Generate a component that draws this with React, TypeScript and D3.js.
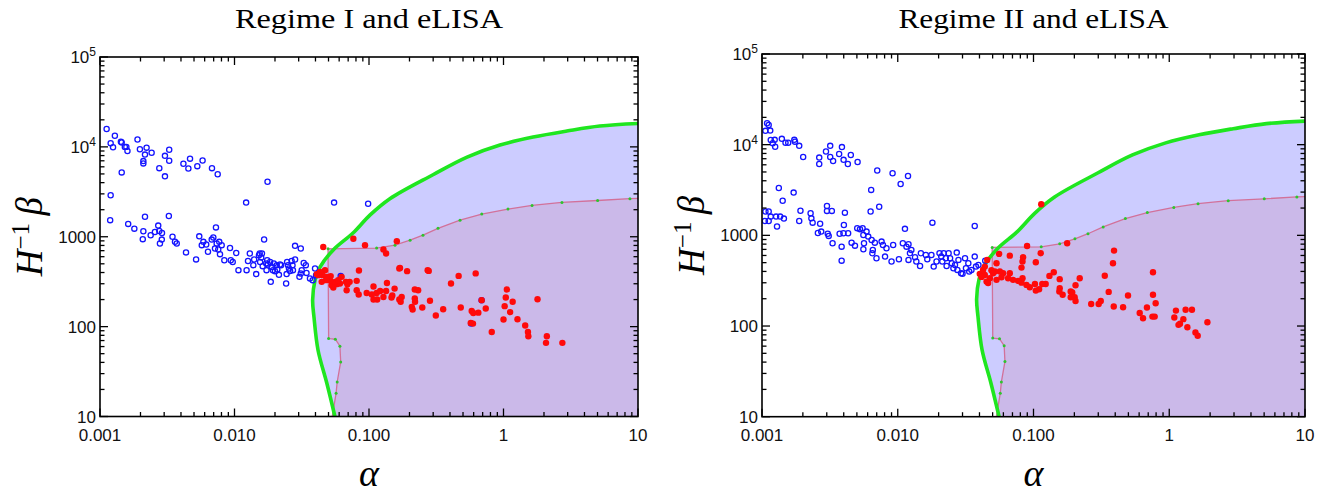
import React from 'react';
import * as d3 from 'd3';

type Pt = [number, number];

// axis ticks
const xMajor = [0.001, 0.01, 0.1, 1, 10];
const xLabels = ['0.001', '0.010', '0.100', '1', '10'];
const yMajor = [10, 100, 1000, 1e4, 1e5];
const yLabels = ['10', '100', '1000', '10^4', '10^5'];

// eLISA sensitivity boundary (green)
const eLisaCurve: Pt[] = [
  [0.0558, 10], [0.0486, 23.4], [0.0418, 54.6], [0.039, 127], [0.0381, 197],
  [0.0397, 329], [0.0432, 459], [0.054, 709], [0.076, 1100], [0.102, 1750],
  [0.143, 2650], [0.299, 4900], [0.536, 7700], [0.942, 10470], [1.66, 12850],
  [2.96, 15000], [5.2, 17050], [10, 18200],
];

// inner region boundary (pink, with green markers)
const regionCurve: Pt[] = [
  [0.0533, 10], [0.0569, 18.1], [0.058, 24.2], [0.0616, 40.5], [0.0608, 60.5],
  [0.0562, 72.4], [0.0501, 73.7], [0.0496, 735], [0.114, 748], [0.156, 806],
  [0.202, 916], [0.252, 1042], [0.326, 1240], [0.475, 1531], [0.689, 1786],
  [1.08, 2030], [1.63, 2233], [2.72, 2411], [5.01, 2530], [8.71, 2650], [10, 2670],
];

const leftBlue: Pt[] = [
  [0.00112, 15800], [0.00129, 13300], [0.0012, 11000], [0.00125, 9900], [0.00143, 11400],
  [0.00145, 11200], [0.00153, 10000], [0.00157, 10000], [0.0016, 9000], [0.0019, 12100],
  [0.00198, 9400], [0.00222, 9800], [0.00216, 8200], [0.00242, 8600], [0.0021, 6950],
  [0.0021, 6550], [0.00145, 5200], [0.00304, 7950], [0.00327, 9300], [0.00327, 7000],
  [0.00276, 5800], [0.00304, 4700], [0.00417, 6500], [0.00467, 7400], [0.00454, 5750],
  [0.00529, 6100], [0.00579, 7050], [0.0068, 5800], [0.0075, 4950], [0.0176, 4100],
  [0.0122, 2400], [0.055, 2400], [0.0985, 2330], [0.0012, 2900],
  [0.00119, 1530], [0.00216, 1670], [0.00325, 1700], [0.00162, 1390], [0.0018, 1230],
  [0.0021, 1150], [0.00208, 940], [0.00238, 1040], [0.00256, 1130], [0.00271, 1330],
  [0.00276, 1160], [0.00289, 1100], [0.00288, 930], [0.00279, 840], [0.00346, 1000],
  [0.00361, 880], [0.00372, 840],
  [0.00436, 670], [0.00518, 560], [0.00547, 1010], [0.00571, 806], [0.00587, 877],
  [0.00616, 820], [0.00635, 680], [0.00677, 930], [0.00696, 980], [0.00716, 740],
  [0.00728, 1270], [0.00737, 840], [0.00757, 720], [0.0077, 877], [0.0078, 640],
  [0.00803, 806], [0.0084, 548], [0.00926, 750], [0.00938, 548], [0.0097, 524],
  [0.0103, 660], [0.0107, 425], [0.0123, 425], [0.0126, 538], [0.013, 652],
  [0.0138, 483], [0.014, 558], [0.0145, 384], [0.0152, 624], [0.0154, 652],
  [0.0155, 524], [0.0158, 588], [0.016, 652], [0.0162, 471], [0.0166, 932],
  [0.0172, 505], [0.0173, 425], [0.0175, 548], [0.0177, 492], [0.0184, 524],
  [0.0186, 315], [0.0189, 462], [0.0193, 425], [0.0196, 505], [0.02, 414],
  [0.0206, 483], [0.0208, 433], [0.0214, 377], [0.0218, 492], [0.0222, 483],
  [0.0242, 302], [0.0244, 384], [0.0246, 524], [0.025, 483], [0.0254, 444],
  [0.0259, 417], [0.0266, 538], [0.027, 483], [0.0272, 425], [0.0282, 558],
  [0.0282, 792], [0.0304, 358], [0.0311, 741], [0.0311, 391], [0.0316, 425],
  [0.0327, 511], [0.0339, 483], [0.0343, 396], [0.0364, 344], [0.0381, 329],
  [0.0397, 444], [0.0404, 374], [0.0616, 365], [0.687, 197], [0.574, 108],
];

const leftRed: Pt[] = [
  [0.0457, 770], [0.0765, 950], [0.0934, 806], [0.128, 722], [0.134, 652],
  [0.161, 893], [0.0842, 422], [0.17, 450], [0.192, 414], [0.273, 425],
  [0.278, 417], [0.464, 367], [0.621, 391], [0.407, 302], [1.06, 259],
  [1.04, 211], [1.17, 189], [1.79, 202], [0.688, 197], [0.738, 159],
  [1.02, 169], [1.12, 145], [1.0, 120], [1.27, 121], [1.45, 103],
  [1.52, 87], [1.53, 78], [2.1, 78], [2.07, 66], [2.74, 66],
  [0.818, 87], [0.58, 149], [0.596, 142], [0.65, 143], [0.571, 110],
  [0.593, 108], [0.481, 163], [0.356, 156], [0.314, 133], [0.284, 194],
  [0.249, 163], [0.219, 259], [0.232, 254], [0.219, 206], [0.22, 189],
  [0.208, 166], [0.211, 155], [0.175, 214], [0.168, 200], [0.172, 189],
  [0.155, 265], [0.149, 222], [0.136, 306], [0.134, 249], [0.128, 214],
  [0.115, 200], [0.114, 237], [0.108, 280], [0.108, 200], [0.105, 228],
  [0.0961, 237], [0.0838, 228], [0.081, 254], [0.081, 323], [0.0718, 315],
  [0.0682, 254], [0.0691, 297], [0.0626, 358], [0.0608, 302], [0.0575, 297],
  [0.0543, 272], [0.0528, 289], [0.0559, 315], [0.059, 329], [0.0513, 329],
  [0.0519, 365], [0.0479, 329], [0.0471, 425], [0.0452, 374], [0.0432, 407],
  [0.042, 374], [0.0445, 315], [0.0409, 384], [0.0485, 358], [0.168, 444],
  [0.121, 249], [0.147, 211], [0.0674, 315],
];

const rightBlue: Pt[] = [
  [0.00109, 17200], [0.00112, 16500], [0.00106, 14200], [0.00115, 14300], [0.00116, 11270],
  [0.00124, 11300], [0.0012, 10400], [0.00125, 9500], [0.0014, 11600], [0.00149, 10500],
  [0.00156, 10500], [0.00173, 11300], [0.00175, 10800], [0.00188, 9700], [0.00201, 7300],
  [0.00264, 7200], [0.00264, 6130], [0.00296, 8400], [0.00318, 9700], [0.00318, 7300],
  [0.00334, 6600], [0.0037, 7900], [0.00388, 9400], [0.00399, 6800], [0.00429, 6130],
  [0.00451, 7700], [0.00506, 6450], [0.00706, 5200], [0.00916, 4840], [0.0119, 4520],
  [0.0105, 3690], [0.00637, 3170], [0.00133, 3330], [0.00171, 2960],
  [0.00142, 2410], [0.00106, 1830], [0.00112, 1830], [0.00116, 1610], [0.00127, 1610],
  [0.00136, 1610], [0.00145, 1530], [0.00105, 1440], [0.00112, 1440], [0.00129, 1250],
  [0.00192, 1870], [0.00188, 1440], [0.00228, 1750], [0.00231, 1540], [0.00236, 1380],
  [0.00301, 2110], [0.00301, 1860], [0.00327, 1860], [0.00268, 1340], [0.00258, 1060],
  [0.00273, 1100], [0.00305, 1040], [0.0031, 986], [0.00331, 818], [0.00373, 1040],
  [0.00408, 1780], [0.00631, 1830], [0.0073, 2070], [0.018, 1380], [0.0369, 1270],
  [0.0113, 1180], [0.00401, 1300], [0.00398, 1055], [0.00386, 751], [0.00386, 526],
  [0.00431, 1055], [0.00457, 831], [0.00484, 770], [0.00503, 1200], [0.00527, 1170],
  [0.00551, 1200], [0.00558, 1010], [0.00564, 818], [0.00558, 703], [0.00589, 1100],
  [0.00606, 969], [0.00642, 890], [0.00655, 691], [0.0065, 635], [0.00678, 831],
  [0.00697, 560], [0.0076, 853], [0.00778, 784], [0.00826, 721], [0.00806, 583],
  [0.009, 514], [0.00925, 784], [0.0102, 546], [0.0109, 818], [0.0116, 751],
  [0.012, 798], [0.0123, 635], [0.012, 536], [0.0126, 691], [0.0134, 574],
  [0.0137, 514], [0.0146, 460], [0.0148, 635], [0.0161, 608], [0.0165, 546],
  [0.0177, 608], [0.0184, 452], [0.0193, 514], [0.0203, 635], [0.0209, 583],
  [0.0213, 514], [0.0218, 635], [0.0226, 560], [0.0229, 460], [0.0237, 635],
  [0.0243, 560], [0.025, 493], [0.0257, 434], [0.0264, 472], [0.0272, 645],
  [0.028, 536], [0.0275, 416], [0.0293, 382], [0.03, 376], [0.0313, 560],
  [0.0318, 434], [0.0331, 493], [0.0336, 399], [0.0349, 416], [0.0369, 583],
  [0.0377, 452], [0.0393, 472], [0.0441, 526],
];

const rightRed: Pt[] = [
  [0.114, 2200], [0.0897, 764], [0.113, 635], [0.177, 818], [0.0669, 597],
  [0.0558, 624], [0.0838, 573], [0.083, 514], [0.104, 505], [0.0816, 441],
  [0.392, 679], [0.385, 493], [0.335, 359], [0.759, 392], [0.141, 392],
  [0.131, 357], [0.156, 329], [0.219, 337], [0.204, 282], [0.123, 291],
  [0.116, 291], [0.1025, 291], [0.0939, 268], [0.0888, 284], [0.11, 254],
  [0.104, 246], [0.083, 337], [0.0816, 301], [0.077, 315], [0.0707, 323],
  [0.0669, 382], [0.065, 337], [0.0597, 382], [0.0565, 399], [0.0534, 493],
  [0.0519, 399], [0.049, 413], [0.0504, 382], [0.0477, 337], [0.0451, 309],
  [0.0438, 366], [0.0438, 452], [0.0402, 376], [0.0425, 416], [0.0456, 536],
  [0.0534, 323], [0.0581, 345], [0.156, 261], [0.155, 240], [0.164, 221],
  [0.188, 240], [0.193, 234], [0.188, 208], [0.201, 208], [0.204, 189],
  [0.266, 175], [0.302, 175], [0.313, 189], [0.358, 238], [0.497, 217],
  [0.39, 164], [0.457, 161], [0.759, 221], [0.794, 178], [0.685, 160],
  [0.606, 139], [0.641, 122], [0.752, 127], [0.781, 127], [1.12, 148],
  [1.32, 151], [1.47, 151], [1.09, 124], [1.27, 119], [1.2, 106],
  [1.17, 103], [1.36, 97], [1.56, 85], [1.62, 78], [1.91, 110],
  [0.0414, 348], [0.0463, 298],
];

const GREEN = '#1fe61f';
const PINK = '#d2719a';
const tickFont = '"Liberation Sans", Arial, Helvetica, sans-serif';
const serif = '"Liberation Serif", "Times New Roman", serif';

type Box = { l: number; r: number; t: number; b: number };

function minorOf(major: number[]) {
  const out: number[] = [];
  major.slice(0, -1).forEach(d => {
    for (let k = 2; k <= 9; k++) out.push(k * d);
  });
  return out;
}

function Panel({ id, box, title, blue, red }: { id: string; box: Box; title: string; blue: Pt[]; red: Pt[] }) {
  const x = d3.scaleLog().domain([0.001, 10]).range([box.l, box.r]);
  const y = d3.scaleLog().domain([10, 1e5]).range([box.b, box.t]);

  const smooth = d3.line<Pt>().x(d => x(d[0])).y(d => y(d[1])).curve(d3.curveCatmullRom.alpha(0.5));
  const straight = d3.line<Pt>().x(d => x(d[0])).y(d => y(d[1]));

  const greenLine = smooth(eLisaCurve) || '';
  const greenArea = greenLine + `L${x(10)},${y(10)}Z`;
  const pinkLine = straight(regionCurve) || '';
  const pinkArea = pinkLine + `L${x(10)},${y(10)}Z`;

  const xMinor = minorOf(xMajor);
  const yMinor = minorOf(yMajor);
  const maj = 8;
  const mnr = 4.5;
  const cx = (box.l + box.r) / 2;
  const cy = (box.t + box.b) / 2;

  return (
    <g>
      <defs>
        <clipPath id={id}>
          <rect x={box.l} y={box.t} width={box.r - box.l} height={box.b - box.t} />
        </clipPath>
      </defs>
      <text x={cx} y={28} textAnchor="middle" fontFamily={serif} fontSize={27}
        textLength={title.length > 18 ? 270 : 268} lengthAdjust="spacingAndGlyphs">{title}</text>

      <g clipPath={`url(#${id})`}>
        <path d={greenArea} fill="#ccccff" />
        <path d={pinkArea} fill="#cbb9e9" />
        <path d={pinkLine} fill="none" stroke={PINK} strokeWidth={1.3} />
        <path d={greenLine} fill="none" stroke={GREEN} strokeWidth={3.6} strokeLinejoin="round" />
        {regionCurve.slice(1, -1).map((d, i) => (
          <circle key={'g' + i} cx={x(d[0])} cy={y(d[1])} r={1.5} fill="#2ec42e" />
        ))}
        {blue.map((d, i) => (
          <circle key={'b' + i} cx={x(d[0])} cy={y(d[1])} r={2.6} fill="none" stroke="#1414ff" strokeWidth={1.3} />
        ))}
        {red.map((d, i) => (
          <circle key={'r' + i} cx={x(d[0])} cy={y(d[1])} r={3.2} fill="#ff0a0a" />
        ))}
      </g>

      {/* frame ticks */}
      <g stroke="#000" strokeWidth={1.3}>
        {xMajor.map(v => (
          <g key={'xm' + v}>
            <line x1={x(v)} x2={x(v)} y1={box.b} y2={box.b - maj} />
            <line x1={x(v)} x2={x(v)} y1={box.t} y2={box.t + maj} />
          </g>
        ))}
        {xMinor.map(v => (
          <g key={'xn' + v}>
            <line x1={x(v)} x2={x(v)} y1={box.b} y2={box.b - mnr} />
            <line x1={x(v)} x2={x(v)} y1={box.t} y2={box.t + mnr} />
          </g>
        ))}
        {yMajor.map(v => (
          <g key={'ym' + v}>
            <line x1={box.l} x2={box.l + maj} y1={y(v)} y2={y(v)} />
            <line x1={box.r} x2={box.r - maj} y1={y(v)} y2={y(v)} />
          </g>
        ))}
        {yMinor.map(v => (
          <g key={'yn' + v}>
            <line x1={box.l} x2={box.l + mnr} y1={y(v)} y2={y(v)} />
            <line x1={box.r} x2={box.r - mnr} y1={y(v)} y2={y(v)} />
          </g>
        ))}
      </g>
      <rect x={box.l} y={box.t} width={box.r - box.l} height={box.b - box.t} fill="none" stroke="#000" strokeWidth={1.6} />

      {xMajor.map((v, i) => (
        <text key={'xl' + v} x={x(v)} y={box.b + 24} textAnchor="middle" fontFamily={tickFont} fontSize={17} fill="#111">
          {xLabels[i]}
        </text>
      ))}
      {yMajor.map((v, i) => {
        const [base, exp] = yLabels[i].split('^');
        return (
          <text key={'yl' + v} x={box.l - 4} y={y(v) + 6} textAnchor="end" fontFamily={tickFont} fontSize={17} fill="#111">
            {base}
            {exp && <tspan fontSize={12} dy={-7}>{exp}</tspan>}
          </text>
        );
      })}

      <text transform={`translate(${box.l - 58},${cy}) rotate(-90)`} textAnchor="middle" fontFamily={serif} fontSize={37}>
        <tspan fontStyle="italic">H</tspan>
        <tspan fontSize={25} dy={-13}>{'\u22121'}</tspan>
        <tspan dy={13} fontStyle="italic">{'\u2009\u03b2'}</tspan>
      </text>
      <text x={cx} y={486} textAnchor="middle" fontFamily={serif} fontSize={38} fontStyle="italic">
        {'\u03b1'}
      </text>
    </g>
  );
}

export default function App() {
  return (
    <div style={{ position: 'absolute', left: 0, top: 0 }}>
      <svg width={1337} height={493} style={{ display: 'block', background: '#fff' }}>
        <Panel id="clipL" box={{ l: 100, r: 638, t: 57, b: 416.5 }} title="Regime I and eLISA" blue={leftBlue} red={leftRed} />
        <Panel id="clipR" box={{ l: 762, r: 1305, t: 54, b: 416.7 }} title="Regime II and eLISA" blue={rightBlue} red={rightRed} />
      </svg>
    </div>
  );
}
